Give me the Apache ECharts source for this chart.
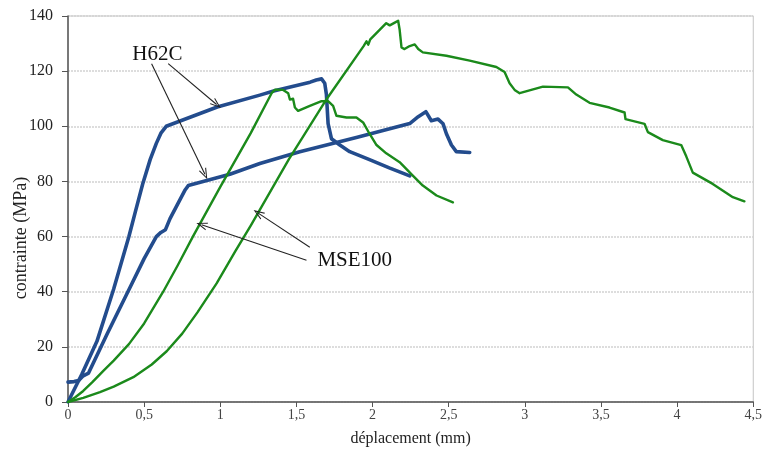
<!DOCTYPE html>
<html><head><meta charset="utf-8">
<script src="https://cdn.jsdelivr.net/npm/echarts@6/dist/echarts.min.js"></script>
<style>html,body{margin:0;padding:0;background:#fff}#c{width:765px;height:452px}</style>
</head><body><div id="c"></div>
<script>
// H62C specimens (déplacement mm, contrainte MPa)
const h62cA = [[0,0],[0.09,10],[0.19,22],[0.3,41],[0.4,60],[0.44,68.5],[0.49,79],[0.54,88],[0.58,93.8],[0.61,97.5],[0.645,100],[0.98,107],[1.26,111.3],[1.35,112.8],[1.59,116],[1.63,116.8],[1.665,117.2],[1.686,115.6],[1.697,111.5],[1.708,101],[1.73,95.5],[1.785,93.2],[1.85,90.8],[1.98,87.9],[2.11,84.9],[2.244,82]];
const h62cB = [[0,7.2],[0.04,7.4],[0.07,7.8],[0.1,9.5],[0.135,10.5],[0.26,25],[0.42,43],[0.5,52],[0.58,60],[0.61,61.5],[0.64,62.5],[0.67,66.5],[0.77,77],[0.79,78.5],[1.063,82.6],[1.26,86.5],[1.522,90.8],[1.9,96],[2.244,101],[2.3,103.5],[2.35,105.3],[2.386,102],[2.43,102.6],[2.463,100.9],[2.485,97.3],[2.518,93.2],[2.55,90.8],[2.638,90.5]];
// MSE100 specimens
const mse100A = [[0,0],[0.05,1.8],[0.1,4],[0.16,7.2],[0.232,11.3],[0.3,15],[0.4,21],[0.5,28.5],[0.625,40],[0.72,49.5],[0.82,60],[1.0,78],[1.2,97.5],[1.337,112],[1.36,113.3],[1.413,113.2],[1.446,112],[1.457,109.7],[1.478,110],[1.49,106.8],[1.511,105.6],[1.588,107.4],[1.665,109.1],[1.708,109.1],[1.741,107.4],[1.763,103.8],[1.829,103.2],[1.894,103.2],[1.938,101.4],[1.98,97.3],[2.026,93.2],[2.09,90.2],[2.178,87],[2.266,82],[2.33,78.5],[2.42,74.9],[2.528,72.4]];
const mse100B = [[0,0],[0.1,1.5],[0.21,3.6],[0.3,5.6],[0.429,9],[0.55,13.6],[0.648,18.4],[0.75,24.8],[0.85,32.5],[0.976,43],[1.1,54.8],[1.2,64],[1.45,88],[1.7,110],[1.94,129],[1.96,130.8],[1.972,129.6],[1.985,131.5],[2.09,137.4],[2.113,136.6],[2.146,137.6],[2.168,138.3],[2.178,135],[2.19,128.6],[2.21,128],[2.244,129.1],[2.277,129.7],[2.3,128],[2.33,126.8],[2.485,125.6],[2.638,123.8],[2.813,121.5],[2.867,119.7],[2.9,115.6],[2.933,113.2],[2.966,112],[3.119,114.4],[3.283,114.1],[3.338,111.5],[3.425,108.5],[3.556,106.8],[3.655,105],[3.661,102.6],[3.786,100.9],[3.808,97.9],[3.906,95],[4.027,93.2],[4.06,89.1],[4.103,83.2],[4.234,79.1],[4.366,74.3],[4.442,72.8]];
// annotation labels and arrows (data units)
const labelNames = ['H62C','MSE100'];
const labelPos = [[0.587,126.2],[1.883,51.3]];
const arrows = [
  [[0.658,122.7],[0.976,107.9]],
  [[0.549,122.7],[0.899,82.6]],
  [[1.566,51.4],[0.877,64.3]],
  [[1.588,56.1],[1.249,68.5]]
];
const xTicks = {min:0,max:4.5,interval:0.5};
const yTicks = {min:0,max:140,interval:20};

const BLUE = '#234c8d', GREEN = '#1b8a1b';
const FONT = 'Liberation Serif';
const chart = echarts.init(document.getElementById('c'), null, {renderer:'canvas'});
const chevron = 'path://M5,0L10,10L8.6,10L5,2.6L1.4,10L0,10Z';
function lineSeries(data, color, width){
  return {type:'line', data, showSymbol:false, symbol:'none', lineStyle:{color, width, join:'round', cap:'round'}, z:2, animation:false};
}
const series = [
  lineSeries(h62cA, BLUE, 3.6),
  lineSeries(h62cB, BLUE, 3.6),
  lineSeries(mse100A, GREEN, 2.4),
  lineSeries(mse100B, GREEN, 2.4),
  {type:'line', data:[], z:5, animation:false,
   markLine:{silent:true, animation:false, symbol:['none', chevron], symbolSize:[8,11],
     lineStyle:{color:'#222', width:1.1, type:'solid'}, label:{show:false},
     data: arrows.map(a => [{coord:a[0]},{coord:a[1]}])}}
];
chart.setOption({
  animation:false,
  backgroundColor:'#fff',
  grid:{left:68, right:11, top:16, bottom:40, show:true, borderColor:'#c4c4c4', borderWidth:1},
  xAxis:{type:'value', min:xTicks.min, max:xTicks.max, interval:xTicks.interval,
    name:'déplacement (mm)', nameLocation:'middle', nameGap:29,
    nameTextStyle:{fontFamily:FONT, fontSize:16, color:'#222'},
    axisLine:{show:true, onZero:false, lineStyle:{color:'#555', width:1.5}},
    axisTick:{show:true, length:5, lineStyle:{color:'#555'}},
    axisLabel:{fontFamily:FONT, fontSize:14, color:'#444', margin:6,
      formatter:v => String(v).replace('.', ',')},
    splitLine:{show:false}},
  yAxis:{type:'value', min:yTicks.min, max:yTicks.max, interval:yTicks.interval,
    axisLine:{show:true, onZero:false, lineStyle:{color:'#555', width:1.5}},
    axisTick:{show:true, length:6, lineStyle:{color:'#555'}},
    axisLabel:{fontFamily:FONT, fontSize:16, color:'#222', margin:15},
    splitLine:{show:true, lineStyle:{color:'#d2d2d2', width:1.5, type:[2,1]}}},
  series
});
const g = labelNames.map((t,i) => {
  const p = chart.convertToPixel({gridIndex:0}, labelPos[i]);
  return {type:'text', x:p[0], y:p[1], z:10,
    style:{text:t, font:'21px "Liberation Serif"', fill:'#111', align:'center', verticalAlign:'middle'}};
});
g.push({type:'text', x:21, y:238, rotation:Math.PI/2, z:10,
  style:{text:'contrainte (MPa)', font:'18px "Liberation Serif"', fill:'#222', align:'center', verticalAlign:'middle'}});
chart.setOption({graphic:g});
</script></body></html>
